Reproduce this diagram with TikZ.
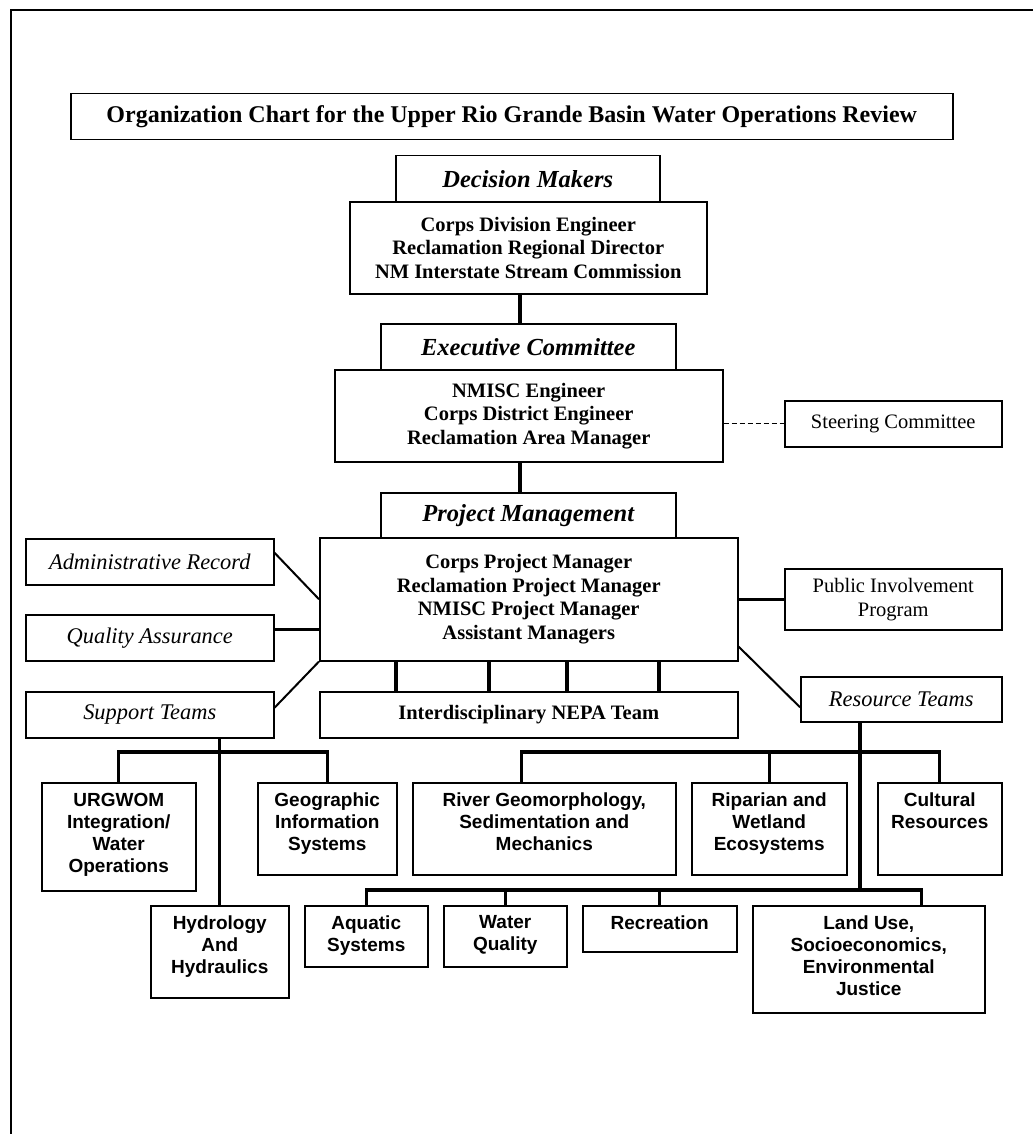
\documentclass[tikz,border=0pt]{standalone}
\usepackage{fontspec}
\setmainfont{Liberation Serif}
\setsansfont{Liberation Sans}
\usetikzlibrary{calc}
\newcommand{\topbox}[3]{\parbox[t][#2][t]{#1}{\centering\vspace*{10pt}#3}}

\begin{document}
\begin{tikzpicture}[x=1pt,y=-1pt,line join=miter,
		box/.style={draw,line width=1.5pt,inner sep=0pt,anchor=north west,align=center,font=\fontsize{20.5}{24}\selectfont},
		bbox/.style={box,font=\fontsize{20.5}{23.5}\selectfont\bfseries},
		hbox/.style={box,font=\fontsize{24.5}{28}\selectfont\bfseries\itshape},
		ibox/.style={box,font=\fontsize{22.4}{26}\selectfont\itshape},
		sbox/.style={draw,line width=1.5pt,inner sep=0pt,anchor=north west,font=\fontsize{19}{22}\sffamily\bfseries\selectfont},
		cn/.style={line width=3.1pt},
		dg/.style={line width=2pt}]
	\useasboundingbox (0,0) rectangle (1033,1134);
	\draw[line width=2pt] (11,1134) -- (11,10) -- (1033,10);
	% top of the chart
	\node[bbox,font=\fontsize{24}{28}\selectfont\bfseries,minimum width=882,minimum height=46] (ttl) at (70,93) {Organization Chart for the Upper Rio Grande Basin Water Operations Review};
	\node[hbox,minimum width=264,minimum height=46] (dmh) at (395,155) {Decision Makers};
	\node[bbox,minimum width=357,minimum height=92] (dmb) at (349,201) {Corps Division Engineer\\Reclamation Regional Director\\NM Interstate Stream Commission};
	\node[hbox,minimum width=295,minimum height=46] (exh) at (380,323) {Executive Committee};
	\node[bbox,minimum width=388,minimum height=92] (exb) at (334,369) {NMISC Engineer\\Corps District Engineer\\Reclamation Area Manager};
	\node[box,minimum width=217,minimum height=46] (stc) at (784,400) {Steering Committee};
	\node[hbox,minimum width=295,minimum height=45] (pmh) at (380,492) {Project Management};
	\node[bbox,minimum width=418,minimum height=123] (pmb) at (319,537) {Corps Project Manager\\Reclamation Project Manager\\NMISC Project Manager\\Assistant Managers};
	\node[ibox,minimum width=248,minimum height=46] (adm) at (25,538) {Administrative Record};
	\node[ibox,minimum width=248,minimum height=46] (qa) at (25,614) {Quality Assurance};
	\node[ibox,minimum width=248,minimum height=46] (sup) at (25,691) {Support Teams};
	\node[bbox,minimum width=418,minimum height=46] (nep) at (319,691) {Interdisciplinary NEPA Team};
	\node[box,minimum width=217,minimum height=61] (pip) at (784,568) {Public Involvement\\Program};
	\node[ibox,minimum width=201,minimum height=45] (rt) at (800,676) {Resource Teams};
	% team boxes
	\node[sbox] (urg) at (41,782) {\topbox{154pt}{108pt}{URGWOM\\Integration/\\Water\\Operations}};
	\node[sbox] (gis) at (257,782) {\topbox{139pt}{92pt}{Geographic\\Information\\Systems}};
	\node[sbox] (rgm) at (412,782) {\topbox{263pt}{92pt}{River Geomorphology,\\Sedimentation and\\Mechanics}};
	\node[sbox] (rip) at (691,782) {\topbox{155pt}{92pt}{Riparian and\\Wetland\\Ecosystems}};
	\node[sbox] (cul) at (877,782) {\topbox{124pt}{92pt}{Cultural\\Resources}};
	\node[sbox] (hyd) at (150,905) {\topbox{138pt}{92pt}{Hydrology\\And\\Hydraulics}};
	\node[sbox] (aqu) at (304,905) {\topbox{123pt}{61pt}{Aquatic\\Systems}};
	\node[sbox] (wq) at (443,905) {\topbox{123pt}{61pt}{Water\\Quality}};
	\node[sbox] (rec) at (582,905) {\topbox{154pt}{46pt}{Recreation}};
	\node[sbox] (lnd) at (752,905) {\topbox{232pt}{107pt}{Land Use,\\Socioeconomics,\\Environmental\\Justice}};
	% connectors
	\coordinate (cx) at (520,0);
	\draw[cn] (cx |- dmb.south) -- (cx |- exh.north);
	\draw[cn] (cx |- exb.south) -- (cx |- pmh.north);
	\draw[line width=1.4pt,dash pattern=on 5pt off 3pt] (stc.west -| exb.east) -- (stc.west);
	\draw[dg] ($(adm.east)+(0,-9)$) -- (pmb.west);
	\draw[cn] ($(qa.east)+(0,-8)$) -- ($(qa.east -| pmb.west)+(0,-8)$);
	\draw[dg] ($(sup.east)+(0,-7)$) -- (pmb.south west);
	\draw[cn] (pip.west -| pmb.east) -- (pip.west);
	\draw[dg] ($(pmb.south east)+(0,-15)$) -- ($(rt.west)+(0,8)$);
	\foreach \x in {396,489,567,659}
		\draw[cn] (\x,0 |- pmb.south) -- (\x,0 |- nep.north);
	\coordinate (bus) at (0,752);
	\coordinate (lbus) at (0,890);
	\draw[cn] (sup.south -| hyd.north) -- (hyd.north);
	\draw[cn] (urg.north) |- (gis.north |- bus) -- (gis.north);
	\coordinate (rtd) at (860,0);
	\coordinate (rgd) at ($(rgm.north)+(-23,0)$);
	\coordinate (lnt) at ($(lnd.north)+(53,0)$);
	\draw[cn] (rtd |- rt.south) -- (rtd |- lbus);
	\draw[cn] (rgd) |- (cul.north |- bus) -- (cul.north);
	\draw[cn] (rip.north) -- (rip.north |- bus);
	\draw[cn] (aqu.north) |- (lnt |- lbus) -- (lnt);
	\foreach \n in {wq,rec}
		\draw[cn] (\n.north) -- (\n.north |- lbus);
\end{tikzpicture}
\end{document}
